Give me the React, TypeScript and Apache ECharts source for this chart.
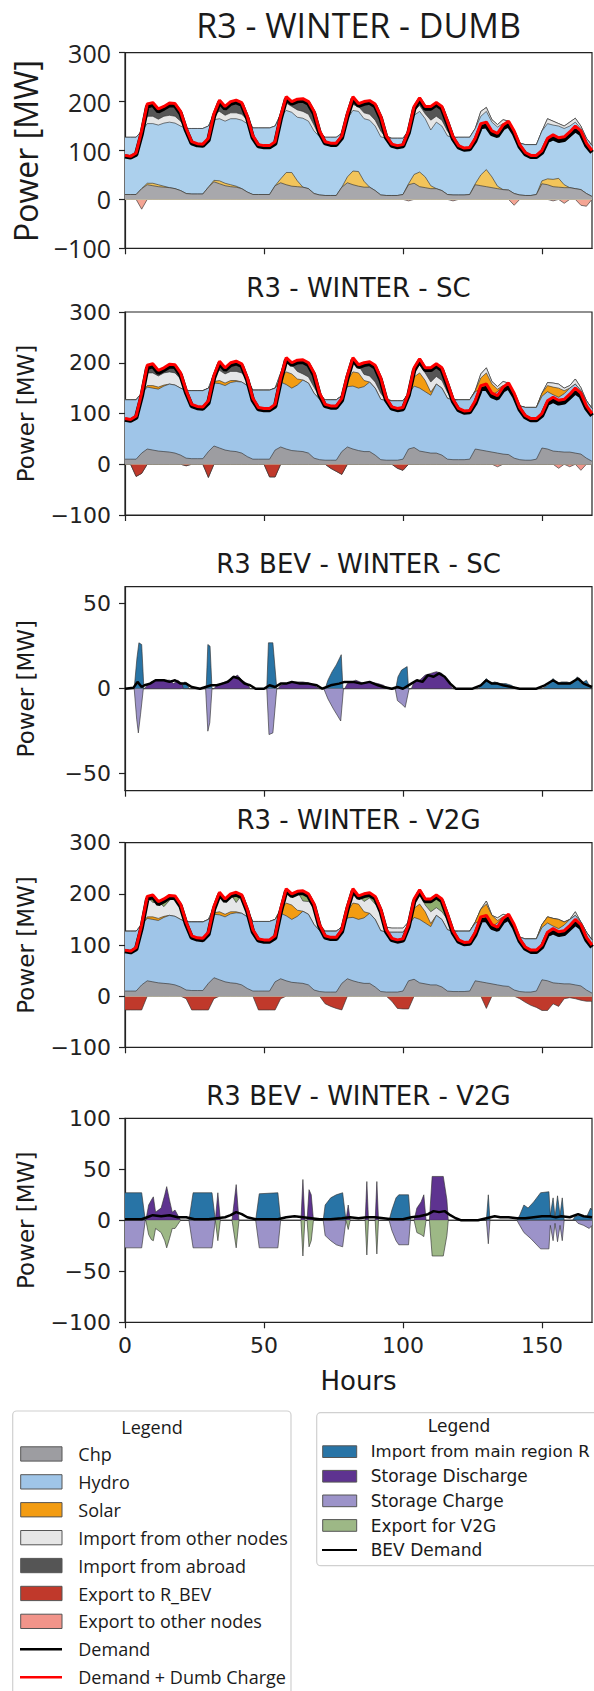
import React, { useEffect, useRef } from "react";
import * as echarts from "echarts";

// ---------- time grid (hours) ----------
const hours = [
  0, 2, 4, 6, 8, 10, 12, 14, 16, 18, 20, 22,
  24, 26, 28, 30, 32, 34, 36, 38, 40, 42, 44, 46,
  48, 50, 52, 54, 56, 58, 60, 62, 64, 66, 68, 70,
  72, 74, 76, 78, 80, 82, 84, 86, 88, 90, 92, 94,
  96, 98, 100, 102, 104, 106, 108, 110, 112, 114, 116, 118,
  120, 122, 124, 126, 128, 130, 132, 134, 136, 138, 140, 142,
  144, 146, 148, 150, 152, 154, 156, 158, 160, 162, 164, 166,
  168,
];
const xTicks = [0, 50, 100, 150];

// ---------- shared main-region series (MW) ----------
const demandDumb = [
  90, 88, 95, 140, 195, 198, 185, 190, 197, 196, 180, 145,
  118, 114, 113, 125, 175, 203, 190, 200, 203, 198, 170, 130,
  112, 110, 110, 118, 170, 210, 200, 205, 206, 200, 180, 140,
  118, 115, 115, 130, 175, 210, 196, 200, 202, 195, 170, 130,
  113, 110, 112, 140, 190, 208, 190, 190, 198, 190, 160, 128,
  110, 105, 106, 125, 155, 158, 140, 135, 152, 160, 140, 112,
  96, 90, 90, 100, 125, 132, 126, 128, 138, 150, 140, 115,
  100,
];
const demand = [
  88, 86, 92, 134, 190, 194, 180, 186, 193, 192, 176, 141,
  115, 111, 110, 121, 170, 199, 186, 196, 199, 194, 166, 126,
  109, 107, 107, 114, 165, 206, 196, 201, 202, 196, 176, 136,
  115, 112, 112, 126, 170, 206, 192, 196, 198, 191, 166, 126,
  110, 107, 109, 136, 185, 204, 186, 186, 194, 186, 156, 124,
  107, 102, 103, 120, 148, 150, 134, 130, 146, 152, 134, 108,
  93, 87, 87, 96, 120, 125, 120, 122, 132, 142, 134, 110,
  96,
];
const chp = [
  10, 10, 10, 22, 30, 28, 26, 25, 24, 22, 18, 12,
  11, 11, 11, 25, 36, 32, 28, 26, 25, 22, 15, 10,
  10, 10, 10, 28, 34, 30, 27, 26, 25, 22, 12, 9,
  8, 8, 8, 25, 34, 30, 27, 25, 25, 18, 9, 8,
  8, 8, 10, 30, 33, 26, 24, 22, 22, 18, 10, 9,
  9, 9, 10, 30, 28, 26, 24, 22, 20, 19, 12, 9,
  8, 8, 10, 32, 30, 26, 25, 24, 24, 22, 20, 12,
  6,
];
const solar = [
  0, 0, 0, 0, 3, 5, 4, 2, 0, 0, 0, 0,
  0, 0, 0, 0, 3, 6, 5, 4, 2, 0, 0, 0,
  0, 0, 0, 0, 8, 25, 28, 12, 0, 0, 0, 0,
  0, 0, 0, 0, 12, 28, 30, 12, 0, 0, 0, 0,
  0, 0, 0, 2, 18, 30, 22, 6, 0, 0, 0, 0,
  0, 0, 0, 2, 22, 35, 22, 5, 0, 0, 0, 0,
  0, 0, 0, 6, 12, 15, 18, 6, 0, 0, 0, 0,
  0,
];
const hydro = [
  117, 117, 117, 118, 122, 122, 122, 129, 134, 134, 132, 133,
  134, 134, 134, 125, 124, 127, 127, 135, 138, 140, 140, 136,
  136, 136, 136, 122, 128, 127, 123, 130, 141, 138, 128, 119,
  119, 119, 119, 110, 119, 124, 123, 128, 137, 132, 119, 117,
  117, 117, 115, 108, 121, 124, 119, 114, 136, 132, 120, 117,
  118, 118, 117, 113, 120, 119, 112, 121, 135, 133, 118, 106,
  104, 104, 102, 102, 113, 111, 107, 115, 126, 136, 125, 113,
  104,
];

// ---------- DUMB ----------
const importOtherDumb = [
  0, 0, 0, 0, 15, 15, 12, 14, 14, 14, 10, 0,
  0, 0, 0, 0, 12, 15, 12, 12, 12, 12, 8, 0,
  0, 0, 0, 0, 5, 15, 12, 15, 14, 14, 12, 0,
  0, 0, 0, 0, 5, 12, 10, 12, 12, 12, 12, 0,
  0, 0, 0, 0, 10, 12, 10, 20, 12, 12, 10, 0,
  0, 0, 0, 0, 10, 8, 5, 5, 8, 8, 5, 0,
  0, 0, 0, 0, 10, 8, 5, 5, 8, 8, 5, 0,
  0,
];
const importAbroadDumb = [
  0, 0, 0, 0, 25, 28, 21, 20, 25, 26, 20, 0,
  0, 0, 0, 0, 0, 23, 18, 23, 26, 24, 7, 0,
  0, 0, 0, 0, 0, 13, 10, 22, 26, 26, 28, 10,
  0, 0, 0, 0, 5, 16, 6, 23, 28, 33, 30, 5,
  0, 0, 0, 0, 8, 16, 15, 28, 28, 28, 20, 2,
  0, 0, 0, 0, 0, 0, 0, 0, 0, 0, 0, 0,
  0, 0, 0, 0, 0, 0, 0, 0, 0, 0, 0, 0,
  0,
];
const exportOtherDumb = [
  0, 0, 0, -20, 0, 0, 0, 0, 0, 0, 0, 0,
  0, 0, 0, 0, 0, 0, 0, 0, 0, 0, 0, 0,
  0, 0, 0, 0, 0, 0, 0, 0, 0, 0, 0, 0,
  0, 0, 0, 0, 0, 0, 0, 0, 0, 0, 0, 0,
  0, 0, 0, -3, 0, 0, 0, 0, 0, 0, 0, -3,
  0, 0, 0, 0, 0, 0, 0, 0, 0, 0, -12, 0,
  0, 0, 0, 0, 0, -3, 0, -8, 0, 0, -12, -14,
  0,
];

// ---------- SC ----------
const importOtherSc = [
  0, 0, 0, 0, 25, 25, 22, 24, 24, 24, 18, 0,
  0, 0, 0, 0, 15, 20, 18, 18, 18, 18, 12, 0,
  0, 0, 0, 0, 10, 18, 18, 15, 12, 12, 12, 5,
  0, 0, 0, 0, 10, 18, 15, 12, 12, 12, 12, 0,
  0, 0, 0, 0, 12, 15, 15, 20, 15, 15, 12, 0,
  0, 0, 0, 0, 8, 10, 5, 5, 8, 8, 5, 0,
  0, 0, 0, 0, 6, 8, 8, 5, 5, 10, 6, 0,
  0,
];
const importAbroadSc = [
  0, 0, 0, 0, 15, 18, 11, 10, 15, 16, 12, 0,
  0, 0, 0, 0, 0, 18, 12, 17, 20, 18, 3, 0,
  0, 0, 0, 0, 0, 10, 4, 22, 28, 28, 28, 7,
  0, 0, 0, 0, 0, 10, 1, 23, 28, 33, 30, 5,
  0, 0, 0, 0, 6, 13, 10, 28, 25, 25, 18, 2,
  0, 0, 0, 0, 0, 0, 0, 0, 0, 0, 0, 0,
  0, 0, 0, 0, 0, 0, 0, 0, 0, 0, 0, 0,
  0,
];
const exportBevSc = [
  0, 0, -24, -18, 0, 0, 0, 0, 0, 0, 0, -3,
  0, 0, 0, -26, 0, 0, 0, 0, 0, 0, 0, 0,
  0, 0, -25, -25, 0, 0, 0, 0, 0, 0, 0, 0,
  0, -8, -14, -20, 0, 0, 0, 0, 0, 0, 0, 0,
  0, -8, -12, 0, 0, 0, 0, 0, 0, 0, 0, 0,
  0, 0, 0, 0, 0, 0, 0, 0, 0, 0, 0, 0,
  0, 0, 0, 0, 0, 0, 0, 0, 0, 0, 0, 0,
  0,
];
const exportOtherSc = [
  0, 0, 0, 0, 0, 0, 0, 0, 0, 0, 0, 0,
  0, 0, 0, 0, 0, 0, 0, 0, 0, 0, 0, 0,
  0, 0, 0, 0, 0, 0, 0, 0, 0, 0, 0, 0,
  0, 0, 0, 0, 0, 0, 0, 0, 0, 0, 0, 0,
  0, 0, 0, 0, 0, 0, 0, 0, 0, 0, 0, 0,
  0, 0, 0, 0, 0, 0, 0, -5, 0, 0, 0, 0,
  0, 0, 0, 0, 0, 0, -8, 0, -5, 0, -12, 0,
  0,
];

// ---------- V2G ----------
const importOtherV2g = [
  0, 0, 0, 0, 40, 28, 33, 19, 29, 40, 30, 0,
  0, 0, 0, 0, 12, 28, 30, 35, 18, 36, 15, 0,
  0, 0, 0, 0, 0, 28, 22, 37, 20, 25, 40, 12,
  0, 0, 0, 0, 5, 28, 16, 20, 30, 30, 42, 10,
  8, 8, 8, 5, 18, 20, 13, 23, 15, 15, 20, 2,
  0, 0, 0, 0, 0, 6, 0, 5, 5, 5, 0, 0,
  0, 0, 0, 0, 0, 0, 0, 0, 0, 7, 0, 0,
  0,
];
const v2gToGrid = [
  0, 0, 0, 0, 0, 15, 0, 15, 10, 0, 0, 0,
  0, 0, 0, 0, 0, 10, 0, 0, 20, 0, 0, 0,
  0, 0, 0, 0, 0, 0, 0, 0, 20, 15, 0, 0,
  0, 0, 0, 0, 5, 0, 0, 15, 10, 15, 0, 0,
  0, 0, 0, 0, 0, 8, 12, 25, 25, 25, 10, 0,
  0, 0, 0, 0, 0, 0, 0, 0, 0, 0, 0, 0,
  0, 0, 0, 0, 0, 0, 0, 0, 0, 0, 0, 0,
  0,
];
const exportBevV2g = [
  -27, -27, -27, -27, 0, 0, 0, 0, 0, 0, 0, -5,
  -27, -27, -27, -27, -5, 0, 0, 0, 0, 0, 0, 0,
  -27, -27, -27, -27, -5, 0, 0, 0, 0, 0, 0, 0,
  -15, -20, -24, -27, 0, 0, 0, 0, 0, 0, 0, 0,
  -10, -24, -25, -25, 0, 0, 0, 0, 0, 0, 0, 0,
  0, 0, 0, 0, 0, -24, 0, 0, 0, 0, 0, -5,
  -12, -18, -22, -28, -28, -15, -20, -5, -3, -5, -8, -10,
  -10,
];

// ---------- BEV region, smart charging: [hour, MW] ----------
const bevScImport = [
  [0, 0], [3.3, 0], [4.3, 18], [5, 27], [6, 26], [6.8, 0],
  [20, 0], [21.5, 4], [22.5, 3], [23, 0],
  [29.2, 0], [29.8, 26], [30.6, 25], [31.3, 0],
  [51, 0], [51.6, 27], [53.2, 27], [54.6, 0],
  [72, 0], [73, 5], [74.5, 10], [76, 14], [77.8, 20], [78.4, 0],
  [97.4, 0], [98.2, 7], [99.5, 11], [101.5, 13], [102, 0],
  [127, 0], [128.5, 3], [130, 6], [131.5, 3], [133, 4], [135, 3], [137, 3], [139, 2], [141, 0],
  [150, 0], [152, 2], [154, 6], [155.5, 3], [157, 4], [159, 4], [161, 3], [162.7, 7], [164, 3], [166, 5], [167, 2], [168, 0],
];
const bevScDischarge = [
  [0, 0], [7, 0], [8, 2], [9.5, 4], [11, 5], [14, 5], [16, 5], [17.5, 3], [19, 5], [20.5, 3], [21, 0],
  [32, 0], [33, 2], [36, 4], [38.5, 6], [40.5, 8], [42, 5], [44, 3], [45, 0],
  [55, 0], [56, 2], [58, 3], [61, 4], [64, 4], [67, 3], [69, 1], [70, 0],
  [79, 0], [80, 3], [83, 5], [86, 3], [88, 4], [91, 3], [93, 2], [95, 0],
  [103, 0], [104, 4], [106, 5], [108, 8], [110, 9], [112, 10], [114, 9], [116, 5], [117.5, 1], [118, 0], [168, 0],
];
const bevScCharge = [
  [0, 0], [3.3, 0], [4.2, -18], [4.8, -26], [5.6, -15], [6.6, 0],
  [29, 0], [29.8, -25], [30.5, -20], [31.3, 0],
  [51, 0], [51.8, -27], [53.2, -26], [54.6, 0],
  [71.5, 0], [73, -6], [75, -12], [76.5, -16], [77.6, -19], [78.6, 0],
  [97.2, 0], [98, -7], [99.5, -9], [100.8, -11], [102.2, 0], [168, 0],
];
const bevScDemand = [
  [0, 0], [3, 0.5], [4.5, 4], [6, 1], [7, 2], [9, 3], [11, 5], [14, 5], [16, 4], [18, 5], [20, 3], [22, 3], [24, 1],
  [27, 0], [29, 1], [31, 2], [33, 2], [35, 3], [37, 4], [39, 7], [41, 6], [43, 3], [45, 2], [47, 0],
  [50, 0], [52, 2], [54, 1], [56, 3], [58, 3], [60, 4], [63, 3], [66, 3], [69, 2], [71, 0],
  [74, 2], [77, 3], [79, 4], [82, 4], [85, 3], [88, 4], [91, 2], [93, 1], [96, 0], [98, 1], [100, 0],
  [103, 3], [105, 5], [107, 4], [109, 8], [111, 7], [113, 9], [115, 7], [117, 3], [119, 0],
  [125, 0], [128, 2], [130, 5], [132, 3], [134, 3], [136, 2], [139, 1], [142, 0],
  [148, 0], [151, 2], [154, 5], [156, 3], [158, 3], [160, 3], [163, 6], [165, 3], [168, 1],
];

// ---------- BEV region, V2G: [hour, MW] ----------
const bevV2gImport = [
  [0, 27], [6, 27], [7.3, 0],
  [23, 0], [24.5, 27], [31.3, 27], [32.5, 0],
  [47, 0], [48.3, 26], [55, 27], [56, 0],
  [71.3, 0], [72, 15], [74, 22], [76, 25], [78.3, 27], [79.5, 0],
  [95, 0], [96, 10], [97.5, 22], [98.5, 25], [102, 25], [102.7, 0],
  [130, 0], [130.7, 25], [131.3, 0],
  [141, 0], [142, 5], [143.5, 15], [145, 12], [147, 18], [149.5, 27], [152.5, 28], [153, 5],
  [154, 22], [154.7, 3], [155.6, 24], [156.5, 5], [157.3, 22], [158, 0],
  [161, 0], [162, 4], [164, 5], [166, 3], [167.5, 12], [168, 10],
];
const bevV2gDischarge = [
  [0, 0], [7.5, 0], [8.5, 15], [9.5, 20], [10.2, 23], [11, 8], [12, 10], [13, 12], [14.3, 25], [15, 33], [16, 20], [17, 8], [18, 10], [19, 5], [20, 0],
  [32.5, 0], [33.4, 27], [34.3, 0],
  [38.5, 0], [40, 35], [41, 0],
  [63.3, 0], [64, 40], [64.7, 0], [65.5, 0], [66.2, 30], [67, 25], [67.8, 0],
  [79.5, 0], [80.3, 15], [81, 0],
  [86.4, 0], [87, 38], [87.6, 0],
  [90, 0], [90.6, 38], [91.2, 0],
  [104, 0], [105, 12], [106.5, 18], [107.5, 25], [108.3, 0],
  [109.5, 0], [110.5, 43], [114.5, 43], [115.8, 20], [116.3, 0], [168, 0],
];
const bevV2gCharge = [
  [0, -27], [6, -27], [7.3, 0],
  [23, 0], [24.5, -27], [31.3, -27], [32.5, 0],
  [47, 0], [48.3, -27], [55, -27], [56, 0],
  [71.3, 0], [72, -15], [74, -20], [76, -24], [78.3, -26], [79.5, 0],
  [95, 0], [96, -10], [97.5, -20], [98.5, -24], [102, -24], [102.7, 0],
  [130, 0], [130.7, -23], [131.3, 0],
  [141, 0], [142, -5], [143.5, -12], [146, -18], [149.5, -28], [152.5, -28], [153, -5],
  [154, -20], [154.7, -3], [155.6, -21], [156.5, -5], [157.3, -20], [158, 0],
  [162, 0], [163, -3], [165, -5], [167, -8], [168, -5],
];
const bevV2gExport = [
  [0, 0], [7.5, 0], [8.5, -14], [9.5, -19], [10.2, -20], [11, -8], [12, -10], [13, -12], [14.3, -20], [15, -27], [16, -18], [17, -8], [18, -8], [19, -4], [20, 0],
  [32.5, 0], [33.4, -20], [34.3, 0],
  [38.5, 0], [40, -27], [41, 0],
  [63.3, 0], [64, -35], [64.7, 0], [65.5, 0], [66.2, -26], [67, -20], [67.8, 0],
  [79.5, 0], [80.3, -9], [81, 0],
  [86.4, 0], [87, -34], [87.6, 0],
  [90, 0], [90.6, -33], [91.2, 0],
  [104, 0], [105, -12], [106.5, -14], [107.5, -16], [108.3, 0],
  [109.5, 0], [110.5, -35], [114.5, -35], [115.8, -15], [116.3, 0], [168, 0],
];
const bevV2gDemand = [
  [0, 1], [6, 1], [8, 3], [10, 5], [13, 4], [16, 5], [19, 3], [22, 3], [25, 1], [30, 1], [33, 2], [36, 3], [38, 5],
  [40, 8], [42, 6], [44, 3], [47, 1], [55, 1], [58, 3], [61, 4], [64, 3], [67, 2], [70, 1], [74, 1], [78, 2], [81, 3],
  [84, 2], [87, 3], [90, 3], [93, 2], [96, 1], [100, 1], [103, 3], [106, 4], [109, 6], [111, 9], [113, 8], [115, 9],
  [117, 5], [119, 2], [121, 0], [127, 0], [130, 2], [133, 4], [135, 3], [138, 3], [141, 2], [144, 2], [147, 3],
  [150, 4], [153, 4], [155, 3], [157, 4], [160, 3], [163, 6], [165, 4], [168, 3],
];

// ---------- colours ----------
const C = {
  chp: "#9d9da1",
  hydro: "#9fc5e8",
  solar: "#f39c12",
  other: "#e5e6e8",
  abroad: "#555555",
  exBev: "#c0392b",
  exOther: "#f1948a",
  imp: "#2874a6",
  dis: "#5e3390",
  chg: "#9c93c9",
  v2g: "#9db886",
};

const DJ = '"DejaVu Sans", sans-serif';
const OS = '"Open Sans", sans-serif';

const fmt = (v: number) => (v < 0 ? "\u2212" + Math.abs(v) : String(v));
const toPts = (vals: number[]) => vals.map((v, i) => [hours[i], v]);

function area(name: string, pts: number[][], color: string, g: number, z: number) {
  return {
    type: "line", name, xAxisIndex: g, yAxisIndex: g, data: pts,
    symbol: "none", showSymbol: false, silent: true, z,
    lineStyle: { width: 0.8, color: "#333", opacity: 0.8 },
    areaStyle: { color, opacity: 1, origin: 0 },
    emphasis: { disabled: true },
  };
}
function line(name: string, pts: number[][], color: string, width: number, g: number, z: number) {
  return {
    type: "line", name, xAxisIndex: g, yAxisIndex: g, data: pts,
    symbol: "none", showSymbol: false, silent: true, z,
    lineStyle: { width, color },
    emphasis: { disabled: true },
  };
}
// Stacked layers: each layer is drawn as its cumulative top filled to zero,
// the lower layers painted over the upper ones.
type Layer = { name: string; vals: number[]; color: string };
function stackLayers(layers: Layer[], g: number) {
  let run = hours.map(() => 0);
  const out: any[] = [];
  layers.forEach((l, k) => {
    run = run.map((r, i) => r + l.vals[i]);
    out.push(area(l.name, toPts(run), l.color, g, 2 + (layers.length - k) * 0.1));
  });
  return out;
}

export default function App() {
  const ref = useRef<HTMLDivElement>(null);
  useEffect(() => {
    if (!ref.current) return;
    const chart = echarts.init(ref.current, undefined, { renderer: "svg" });

    const grids = [
      { top: 52.7, height: 195.6 },
      { top: 312, height: 203 },
      { top: 586.7, height: 204 },
      { top: 842.7, height: 204.6 },
      { top: 1118.3, height: 204 },
    ].map((g) => ({
      left: 125, width: 467, top: g.top, height: g.height, show: true,
      borderColor: "#222", borderWidth: 1.2, backgroundColor: "transparent", containLabel: false,
    }));

    const axisLine = { show: true, onZero: false, lineStyle: { color: "#222", width: 1.2 } };
    const xAxis = grids.map((_, i) => ({
      type: "value", gridIndex: i, min: 0, max: 168,
      axisLine,
      axisTick: { show: true, length: 6, customValues: xTicks, lineStyle: { color: "#222", width: 1.2 } },
      axisLabel: {
        show: i === 4, customValues: xTicks, margin: 12, fontSize: 22, fontFamily: DJ, color: "#222",
      },
      splitLine: { show: false },
    }));
    const yCfg = [
      { min: -100, max: 300, interval: 100, font: OS, size: 25 },
      { min: -100, max: 300, interval: 100, font: DJ, size: 22 },
      { min: -60, max: 60, custom: [-50, 0, 50], font: DJ, size: 22 },
      { min: -100, max: 300, interval: 100, font: DJ, size: 22 },
      { min: -100, max: 100, interval: 50, font: DJ, size: 22 },
    ];
    const yAxis = yCfg.map((c, i) => ({
      type: "value", gridIndex: i, min: c.min, max: c.max,
      ...(c.interval ? { interval: c.interval } : {}),
      axisLine,
      axisTick: { show: true, length: 6, ...(c.custom ? { customValues: c.custom } : {}), lineStyle: { color: "#222", width: 1.2 } },
      axisLabel: {
        show: true, margin: 14, fontSize: c.size, fontFamily: c.font, color: "#222", formatter: fmt,
        ...(c.custom ? { customValues: c.custom } : {}),
      },
      splitLine: { show: false },
    }));

    const series: any[] = [
      // ---- plot 0: DUMB
      ...stackLayers([
        { name: "Chp", vals: chp, color: "#a8a8ac" },
        { name: "Solar", vals: solar, color: "#f2c45a" },
        { name: "Hydro", vals: hydro, color: "#acd0ed" },
        { name: "Import from other nodes", vals: importOtherDumb, color: "#e6e6e6" },
        { name: "Import from abroad", vals: importAbroadDumb, color: "#555555" },
      ], 0),
      ...stackLayers([{ name: "Export to other nodes", vals: exportOtherDumb, color: "#f4a594" }], 0),
      line("Demand", toPts(demand), "#000", 4.5, 0, 20),
      line("Demand + Dumb Charge", toPts(demandDumb), "#ff0000", 3, 0, 21),
      // ---- plot 1: SC
      ...stackLayers([
        { name: "Chp", vals: chp, color: C.chp },
        { name: "Hydro", vals: hydro, color: C.hydro },
        { name: "Solar", vals: solar, color: C.solar },
        { name: "Import from other nodes", vals: importOtherSc, color: C.other },
        { name: "Import from abroad", vals: importAbroadSc, color: C.abroad },
      ], 1),
      ...stackLayers([
        { name: "Export to R_BEV", vals: exportBevSc, color: C.exBev },
        { name: "Export to other nodes", vals: exportOtherSc, color: C.exOther },
      ], 1),
      line("Demand", toPts(demand), "#000", 4.5, 1, 20),
      line("Demand + Dumb Charge", toPts(demandDumb), "#ff0000", 3, 1, 21),
      // ---- plot 2: BEV SC
      area("Import from main region R3", bevScImport, C.imp, 2, 2),
      area("Storage Discharge", bevScDischarge, C.dis, 2, 2.1),
      area("Storage Charge", bevScCharge, C.chg, 2, 2.2),
      line("BEV Demand", bevScDemand, "#000", 2.5, 2, 20),
      // ---- plot 3: V2G
      ...stackLayers([
        { name: "Chp", vals: chp, color: C.chp },
        { name: "Hydro", vals: hydro, color: C.hydro },
        { name: "Solar", vals: solar, color: C.solar },
        { name: "Import from other nodes", vals: importOtherV2g, color: C.other },
        { name: "Export for V2G", vals: v2gToGrid, color: "#8fae6e" },
      ], 3),
      ...stackLayers([{ name: "Export to R_BEV", vals: exportBevV2g, color: C.exBev }], 3),
      line("Demand", toPts(demand), "#000", 4.5, 3, 20),
      line("Demand + Dumb Charge", toPts(demandDumb), "#ff0000", 3, 3, 21),
      // ---- plot 4: BEV V2G
      area("Import from main region R3", bevV2gImport, C.imp, 4, 2),
      area("Storage Discharge", bevV2gDischarge, C.dis, 4, 2.1),
      area("Storage Charge", bevV2gCharge, C.chg, 4, 2.2),
      area("Export for V2G", bevV2gExport, C.v2g, 4, 2.3),
      line("BEV Demand", bevV2gDemand, "#000", 2.5, 4, 20),
    ];

    const txt = (text: string, x: number, y: number, size: number, font: string, extra: any = {}) => ({
      type: "text", x, y, silent: true, z: 100,
      style: { text, fontSize: size, fontFamily: font, fill: "#1a1a1a", align: "center", verticalAlign: "middle", ...extra },
    });
    const vtxt = (text: string, x: number, y: number, size: number, font: string) => ({
      type: "text", x, y, rotation: Math.PI / 2, silent: true, z: 100,
      style: { text, fontSize: size, fontFamily: font, fill: "#1a1a1a", align: "center", verticalAlign: "middle" },
    });

    const graphic: any[] = [
      txt("R3 - WINTER - DUMB", 358.5, 25, 34, OS),
      txt("R3 - WINTER - SC", 358.5, 288, 26, DJ),
      txt("R3 BEV - WINTER - SC", 358.5, 564, 26, DJ),
      txt("R3 - WINTER - V2G", 358.5, 820, 26, DJ),
      txt("R3 BEV - WINTER - V2G", 358.5, 1096, 26, DJ),
      vtxt("Power [MW]", 25, 151, 32, OS),
      vtxt("Power [MW]", 25.5, 413.5, 23, DJ),
      vtxt("Power [MW]", 25.5, 688.7, 23, DJ),
      vtxt("Power [MW]", 25.5, 945, 23, DJ),
      vtxt("Power [MW]", 25.5, 1220.3, 23, DJ),
      txt("Hours", 358.5, 1381, 26, DJ),
    ];

    // legend 1
    graphic.push({
      type: "rect", silent: true, z: 90,
      shape: { x: 12.7, y: 1411, width: 278.3, height: 300, r: 4 },
      style: { fill: "#fff", stroke: "#d0d0d0", lineWidth: 1.2 },
    });
    graphic.push(txt("Legend", 152, 1426.7, 18, OS));
    const leg1: [string, string, string][] = [
      ["Chp", C.chp, "patch"],
      ["Hydro", C.hydro, "patch"],
      ["Solar", C.solar, "patch"],
      ["Import from other nodes", "#e6e6e6", "patch"],
      ["Import from abroad", C.abroad, "patch"],
      ["Export to R_BEV", C.exBev, "patch"],
      ["Export to other nodes", C.exOther, "patch"],
      ["Demand", "#000000", "line"],
      ["Demand + Dumb Charge", "#ff0000", "line"],
    ];
    leg1.forEach(([label, color, kind], i) => {
      const cy = 1454 + i * 27.9;
      if (kind === "patch") {
        graphic.push({
          type: "rect", silent: true, z: 100,
          shape: { x: 20.7, y: cy - 7.2, width: 41.3, height: 14.3 },
          style: { fill: color, stroke: "#555", lineWidth: 1 },
        });
      } else {
        graphic.push({
          type: "line", silent: true, z: 100,
          shape: { x1: 20, y1: cy, x2: 62, y2: cy },
          style: { stroke: color, lineWidth: 2.5 },
        });
      }
      graphic.push(txt(label, 78.3, cy, 18, OS, { align: "left" }));
    });

    // legend 2
    graphic.push({
      type: "rect", silent: true, z: 90,
      shape: { x: 316.7, y: 1412.7, width: 300, height: 153, r: 4 },
      style: { fill: "#fff", stroke: "#d0d0d0", lineWidth: 1.2 },
    });
    graphic.push(txt("Legend", 459, 1426, 17, DJ));
    const leg2: [string, string, string][] = [
      ["Import from main region R", C.imp, "patch"],
      ["Storage Discharge", C.dis, "patch"],
      ["Storage Charge", C.chg, "patch"],
      ["Export for V2G", C.v2g, "patch"],
      ["BEV Demand", "#000000", "line"],
    ];
    leg2.forEach(([label, color, kind], i) => {
      const cy = 1451.7 + i * 24.6;
      if (kind === "patch") {
        graphic.push({
          type: "rect", silent: true, z: 100,
          shape: { x: 322.7, y: cy - 5.9, width: 34, height: 11.7 },
          style: { fill: color, stroke: "#555", lineWidth: 1 },
        });
      } else {
        graphic.push({
          type: "line", silent: true, z: 100,
          shape: { x1: 322, y1: cy, x2: 357, y2: cy },
          style: { stroke: color, lineWidth: 2 },
        });
      }
      graphic.push(txt(label, 370.7, cy, i === 0 ? 16.5 : 17, DJ, { align: "left" }));
    });

    chart.setOption({
      animation: false,
      backgroundColor: "#ffffff",
      grid: grids,
      xAxis,
      yAxis,
      series,
      graphic,
    });
    return () => chart.dispose();
  }, []);

  return (
    <div
      ref={ref}
      style={{ position: "absolute", left: 0, top: 0, width: 594, height: 1691, overflow: "hidden", background: "#fff" }}
    />
  );
}
